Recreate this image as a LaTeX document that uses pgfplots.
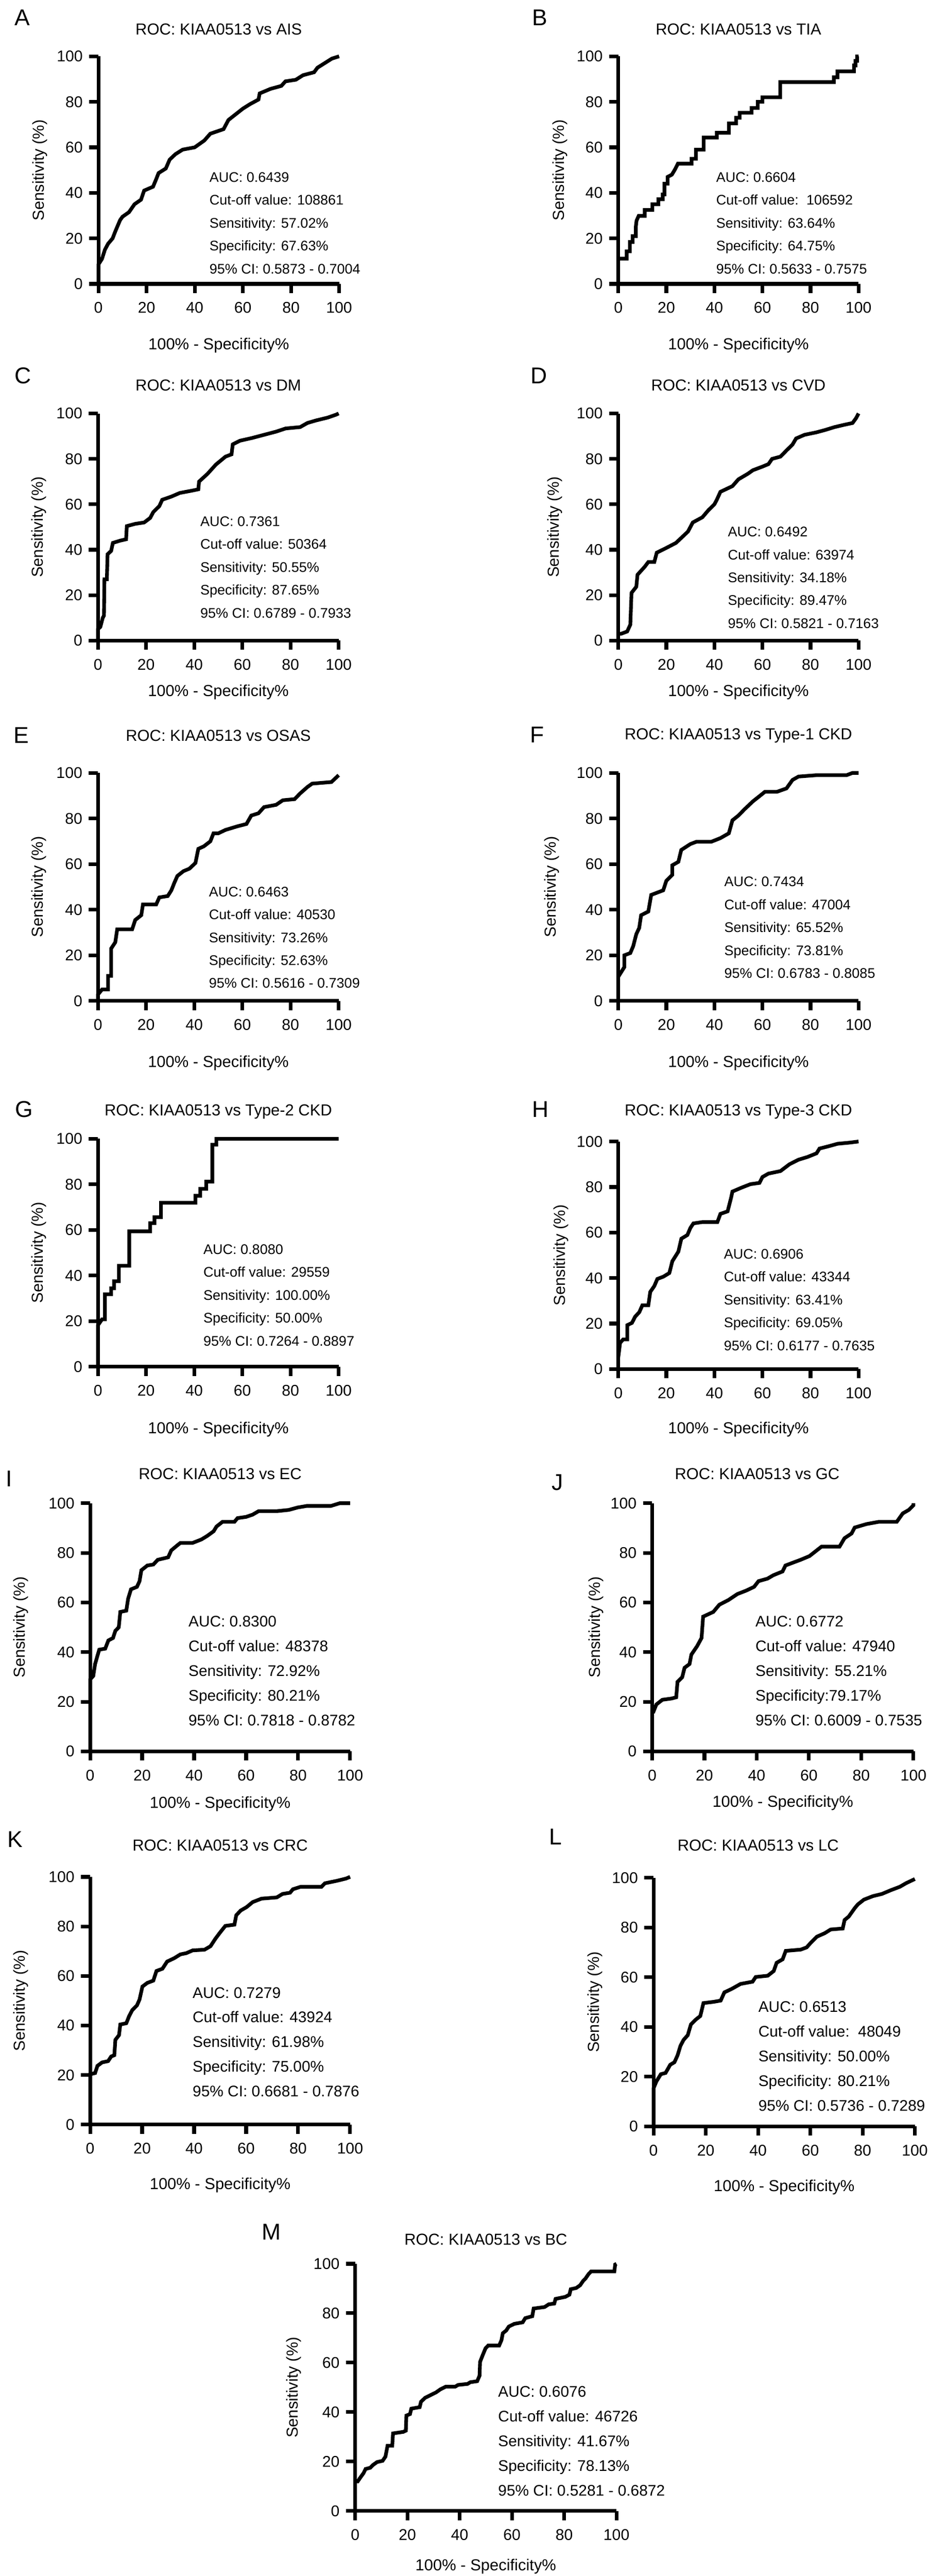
\documentclass[border=0pt]{standalone}
\usepackage{fontspec}
\setmainfont{Liberation Sans}
\usepackage{pgfplots}
\pgfplotsset{compat=1.18}
\pgfplotsset{
  roc/.style={
    scale only axis, clip=false,
    xmin=0,xmax=100,ymin=0,ymax=100,
    xtick={0,20,...,100}, ytick={0,20,...,100},
    axis x line*=bottom, axis y line*=left,
    axis line style={line width=2bp},
    tick align=outside, major tick length=5bp,
    major tick style={line width=2bp,black},
    tick label style={font=\fontsize{8.5bp}{10bp}\selectfont},
    xticklabel style={yshift=-1.5bp},
    /pgf/number format/assume math mode=true,
    xlabel={100\% - Specificity\%},
    ylabel={Sensitivity (\%)},
    label style={font=\fontsize{8.7bp}{10bp}\selectfont},
    every axis title/.style={at={(0.5,1)}, anchor=center, font=\fontsize{8.7bp}{10bp}\selectfont},
    anchor=south west,
  },
  tsh/.style={title style={yshift=#1}},
  xl/.style={xlabel style={at={(axis description cs:0.5,-#1)}, anchor=center}},
  yl/.style={ylabel style={at={(axis description cs:-#1,0.5)}, anchor=center}},
  curve/.style={black, line width=2bp, mark=none},
}
\tikzset{
  annoA/.style={font=\fontsize{7.6bp}{12.5bp}\selectfont, align=left, inner sep=0pt, anchor=north west},
  annoB/.style={font=\fontsize{8.4bp}{13.5bp}\selectfont, align=left, inner sep=0pt, anchor=north west},
  lett/.style={font=\fontsize{12.5bp}{14bp}\selectfont, inner sep=0pt},
}
\begin{document}
\begin{tikzpicture}
\path[use as bounding box] (0,0) rectangle (507.75bp,-1406.5bp);

% ---------------- A
\begin{axis}[roc, at={(53.75bp,-155bp)}, width=131.5bp, height=124.25bp,
  title={ROC: KIAA0513 vs AIS}, tsh=14.75bp, xl=0.27, yl=0.243]
\addplot[curve] coordinates {(0,0)(0,8.5)(1.5,11)(2.7,15)(4,17.6)(5.9,20)(7,23)(9,28)(10,29.5)(12.7,31.5)(15,35)(17.7,37)(19,41)(22.7,42.7)(24,46)(25,48.7)(28,50.7)(29.6,54.6)(32,57)(35,59)(40,60)(44,63)(46.5,66)(52,68)(54,72)(57,74.5)(60,77)(63,79)(66.5,81)(67,83.7)(71.5,85.7)(76,87)(77.7,89)(82,89.7)(85,91.7)(89.6,93)(91,95)(94,97)(97,99)(100,100)};
\node[annoA] at (axis cs:46,49.2) {AUC: 0.6439\\Cut-off value: 108861\\Sensitivity: 57.02\%\\Specificity: 67.63\%\\95\% CI: 0.5873 - 0.7004};
\end{axis}

% ---------------- B
\begin{axis}[roc, at={(337.75bp,-155bp)}, width=131.25bp, height=124.25bp,
  title={ROC: KIAA0513 vs TIA}, tsh=14.75bp, xl=0.27, yl=0.242]
\addplot[curve] coordinates {(0,0)(0,11.1)(3.5,11.1)(3.5,14.3)(4.8,14.3)(4.8,18.4)(6,18.4)(6,21)(7.3,21)(7.3,25.2)(7.6,27.8)(8.5,29.9)(11,29.9)(11,32.5)(14.2,32.5)(14.2,35)(16.7,35)(16.7,37.2)(18.5,37.2)(18.5,39.3)(19.2,39.3)(19.2,44)(20.5,44)(20.5,47)(22.3,48)(23.6,50.3)(24.8,52.8)(30.5,52.8)(30.5,55)(32.3,55)(32.3,59)(35.5,59)(35.5,64.3)(41,64.3)(41,66.4)(46,66.4)(46,70.5)(49,70.5)(49,73)(50.5,73)(50.5,75.2)(55.5,75.2)(55.5,77.3)(58,77.3)(58,80)(60,80)(60,82)(67.4,82)(67.4,88.7)(89.7,88.7)(89.7,90.8)(91.2,90.8)(91.2,93.4)(98.1,93.4)(98.1,96)(98.7,96)(98.7,98)(99.4,98)(99.4,100)(100,100)};
\node[annoA] at (axis cs:40.6,49.2) {AUC: 0.6604\\Cut-off value:\ \ 106592\\Sensitivity: 63.64\%\\Specificity: 64.75\%\\95\% CI: 0.5633 - 0.7575};
\end{axis}

% ---------------- C
\begin{axis}[roc, at={(53.5bp,-349.75bp)}, width=131.5bp, height=124bp,
  title={ROC: KIAA0513 vs DM}, tsh=15.5bp, xl=0.228, yl=0.245]
\addplot[curve] coordinates {(0,0)(0,5)(1,6)(2,10)(2.5,11)(2.7,27)(3.7,27)(4,38)(5.5,39.5)(6.2,43)(9.2,44)(11.7,44.6)(12,50.4)(15.5,51.4)(19.2,52)(21.7,54)(23,56.6)(25.5,59.2)(26.7,62)(30.5,63.4)(34,65)(39,66)(41.7,66.6)(42,70)(45.5,73.4)(49,77.5)(53,81)(55.5,82)(56,86.4)(59,88)(64,89.2)(69,90.6)(74,92)(78,93.4)(84,94)(87,95.8)(90.5,96.9)(95.5,98.2)(99,99.5)(100,100)};
\node[annoA] at (axis cs:42.4,54.8) {AUC: 0.7361\\Cut-off value: 50364\\Sensitivity: 50.55\%\\Specificity: 87.65\%\\95\% CI: 0.6789 - 0.7933};
\end{axis}

% ---------------- D
\begin{axis}[roc, at={(337.75bp,-349.75bp)}, width=131.25bp, height=124bp,
  title={ROC: KIAA0513 vs CVD}, tsh=15.5bp, xl=0.228, yl=0.263]
\addplot[curve] coordinates {(0,0)(0,3)(1.2,3)(3.7,4)(5,7)(5.5,21)(7.5,23.7)(8,29)(11,32.5)(12.5,34.6)(15,34.6)(16,38.7)(20,40.8)(24,43)(26,45)(29,48)(31,52)(35,54.3)(37.5,57.4)(40,60)(41,62)(42.5,65.5)(47.5,68)(50,71)(54,73.5)(56,75)(60,76.6)(62.5,77.7)(64,80)(67.5,81)(70,83.7)(72.5,86.3)(74,89)(77.5,90.6)(82.5,91.7)(86,92.7)(90,94)(94,95)(97.5,95.8)(99,98)(100,100)};
\node[annoA] at (axis cs:45.5,50.2) {AUC: 0.6492\\Cut-off value: 63974\\Sensitivity: 34.18\%\\Specificity: 89.47\%\\95\% CI: 0.5821 - 0.7163};
\end{axis}

% ---------------- E
\begin{axis}[roc, at={(53.5bp,-546.5bp)}, width=131.5bp, height=124.5bp,
  title={ROC: KIAA0513 vs OSAS}, tsh=20.25bp, xl=0.273, yl=0.245]
\addplot[curve] coordinates {(0,0)(0,2.8)(1.7,5)(4.2,5)(4.2,11)(5.5,11)(5.5,23)(7.2,25.7)(8,31.4)(14.2,31.4)(15.5,35.5)(18,37.6)(18.7,42.3)(24.2,42.3)(25.5,45.4)(29,46)(30.5,48.5)(31.7,51.7)(33,54.8)(35.5,56.9)(38,58)(40.5,60.5)(41.7,66.7)(44,67.8)(46.7,70)(48,73.5)(50,73.5)(53,75)(58,76.6)(61.7,77.6)(63.7,81.3)(66.7,82.3)(69,85)(74,86)(76.8,88)(81.7,88.5)(84,91)(87,93.8)(89,95.3)(97,96)(99,98)(100,99)};
\node[annoA] at (axis cs:46,50.2) {AUC: 0.6463\\Cut-off value: 40530\\Sensitivity: 73.26\%\\Specificity: 52.63\%\\95\% CI: 0.5616 - 0.7309};
\end{axis}

% ---------------- F
\begin{axis}[roc, at={(337.75bp,-546.5bp)}, width=131.25bp, height=124.5bp,
  title={ROC: KIAA0513 vs Type-1 CKD}, tsh=20.25bp, xl=0.273, yl=0.276]
\addplot[curve] coordinates {(0,0)(0,10.6)(2.5,14.8)(2.5,20)(5,21)(6.2,24)(7.5,29.3)(8.7,32)(9.5,37.6)(12.5,39.2)(13.7,46.5)(18.7,48.5)(20,52.7)(22.5,55.3)(22.5,59.5)(25,61)(26.2,66.2)(30,68.8)(32.5,69.8)(38.7,69.8)(42.5,71.4)(46,73.5)(47.5,79.2)(50,81.3)(52.5,84)(56,87.5)(59,90)(61,91.7)(66,91.7)(70,93.2)(72.5,96.9)(75,98.4)(82.5,99)(95,99)(97.5,100)(100,100)};
\node[annoA] at (axis cs:44,54.6) {AUC: 0.7434\\Cut-off value: 47004\\Sensitivity: 65.52\%\\Specificity: 73.81\%\\95\% CI: 0.6783 - 0.8085};
\end{axis}

% ---------------- G
\begin{axis}[roc, at={(53.5bp,-746.25bp)}, width=131.5bp, height=124.5bp,
  title={ROC: KIAA0513 vs Type-2 CKD}, tsh=14.75bp, xl=0.275, yl=0.245]
\addplot[curve] coordinates {(0,0)(0,18.2)(1.7,20.8)(2.9,20.8)(2.9,31.8)(5.5,31.8)(5.5,34.4)(6.7,34.4)(6.7,37.5)(8.7,37.5)(8.7,44.3)(13,44.3)(13,59.4)(21.7,59.4)(21.7,63)(23.5,63)(23.5,65.6)(26.2,65.6)(26.2,71.9)(40.5,71.9)(40.5,75)(42.5,75)(42.5,78)(45,78)(45,81.2)(47.5,81.2)(47.5,97.4)(49.2,97.4)(49.2,100)(100,100)};
\node[annoA] at (axis cs:43.7,53.8) {AUC: 0.8080\\Cut-off value: 29559\\Sensitivity: 100.00\%\\Specificity: 50.00\%\\95\% CI: 0.7264 - 0.8897};
\end{axis}

% ---------------- H
\begin{axis}[roc, at={(337.75bp,-747.5bp)}, width=131.25bp, height=124.25bp,
  title={ROC: KIAA0513 vs Type-3 CKD}, tsh=16.25bp, xl=0.266, yl=0.238]
\addplot[curve] coordinates {(0,0)(0,5.2)(0.75,11.5)(2,13)(3.75,13)(3.75,19.3)(5.7,20.3)(7,23)(8.75,25)(10,28)(12.5,28)(13.3,33.9)(15,36.5)(16.25,39.6)(18.75,40.6)(21.25,42.2)(22.5,47.4)(25,51.6)(26.25,57.3)(28.75,58.9)(30,62)(31.25,64)(35,64.6)(41.25,64.6)(42.5,68.2)(45.5,69.3)(47,75.5)(47.5,78)(51.25,79.7)(55,81.25)(58.75,81.8)(60,84.4)(62.5,85.9)(67.5,87)(71.25,90)(75,92)(78.75,93.2)(82.5,94.8)(83.75,96.9)(87.5,97.9)(91.25,99)(96.25,99.5)(100,100)};
\node[annoA] at (axis cs:43.8,52.9) {AUC: 0.6906\\Cut-off value: 43344\\Sensitivity: 63.41\%\\Specificity: 69.05\%\\95\% CI: 0.6177 - 0.7635};
\end{axis}

% ---------------- I
\begin{axis}[roc, at={(49.25bp,-956.25bp)}, width=142bp, height=135.5bp,
  title={ROC: KIAA0513 vs EC}, tsh=16bp, xl=0.212, yl=0.266]
\addplot[curve] coordinates {(0,0)(0,29)(1.2,30.4)(1.9,35.2)(2.8,38.5)(3.5,41)(5.8,41.4)(7,44.7)(8.8,45.7)(9.7,48.6)(11,50)(11.6,56.2)(13.9,56.7)(14.6,61.5)(15.7,65.3)(18,66.3)(19,68.6)(19.7,73)(22,74.9)(24.3,75.3)(26,77.2)(30,78.2)(31.2,81)(33.5,83)(34.7,84)(39.4,84)(42.8,85.4)(45,86.8)(47.5,88.7)(48.6,90.6)(50.9,92.5)(55.5,92.5)(56.7,94)(60,94.5)(62.5,95.4)(64.8,96.8)(71.8,96.8)(76.4,97.3)(79.9,98.3)(83.3,98.9)(92.6,98.9)(96,100)(100,100)};
\node[annoB] at (axis cs:37.7,54.6) {AUC: 0.8300\\Cut-off value: 48378\\Sensitivity: 72.92\%\\Specificity: 80.21\%\\95\% CI: 0.7818 - 0.8782};
\end{axis}

% ---------------- J
\begin{axis}[roc, at={(356.25bp,-956.25bp)}, width=142.75bp, height=135.5bp,
  title={ROC: KIAA0513 vs GC}, tsh=16bp, title style={xshift=-14bp}, xl=0.207, yl=0.214]
\addplot[curve] coordinates {(0,0)(0,16)(0.5,16)(1.6,18.9)(3.9,20.8)(7.4,21.3)(9.2,21.8)(9.7,28)(11.5,29.9)(12.4,33.7)(14.3,35.2)(15,39)(17.2,42.4)(18.9,45.7)(19.5,54.3)(23.4,56.2)(25.7,59.1)(29.2,61)(32.6,63.4)(36,64.8)(39,66.3)(40.7,68.6)(44.1,69.6)(46.4,71)(49.9,72.5)(51,74.9)(54.5,76.3)(56.8,77.2)(60.2,78.7)(62.5,80.6)(64.8,82.5)(71.7,82.5)(73.6,85.9)(76.3,87.8)(77.5,90.2)(82,91.6)(86.7,92.5)(93.6,92.5)(95.9,95.9)(98.2,97.3)(100,99.2)(100,100)};
\node[annoB] at (axis cs:39.4,54.6) {AUC: 0.6772\\Cut-off value: 47940\\Sensitivity: 55.21\%\\Specificity:79.17\%\\95\% CI: 0.6009 - 0.7535};
\end{axis}

% ---------------- K
\begin{axis}[roc, at={(49.25bp,-1160bp)}, width=142bp, height=135.25bp,
  title={ROC: KIAA0513 vs CRC}, tsh=17.25bp, xl=0.244, yl=0.266]
\addplot[curve] coordinates {(0,0)(0,20.3)(1.9,20.8)(2.8,23.7)(4.6,25.1)(6.9,25.6)(8.1,27.5)(9.3,28)(9.7,34.2)(11.1,36.1)(11.6,40.4)(13.9,40.9)(15,43.8)(16.2,46.2)(18,48.1)(19,50.5)(20.1,55.7)(22,57.2)(24.3,58.1)(25.5,62)(27.8,62.9)(29.6,65.8)(32.4,67.2)(34.7,68.7)(37,69.2)(39.4,70.3)(44,70.6)(46.3,72)(48.1,74.9)(49.8,77.3)(52,80.2)(55.5,80.7)(56.2,84.5)(57.9,86.4)(60.2,87.8)(62.5,89.8)(65.9,91.2)(71.8,91.7)(74,93.1)(76.9,93.6)(78,95)(81,96)(89,96)(90.3,97.4)(94.9,98.4)(98.4,99.3)(100,100)};
\node[annoB] at (axis cs:39.3,55.6) {AUC: 0.7279\\Cut-off value: 43924\\Sensitivity: 61.98\%\\Specificity: 75.00\%\\95\% CI: 0.6681 - 0.7876};
\end{axis}

% ---------------- L
\begin{axis}[roc, at={(357bp,-1161bp)}, width=142.75bp, height=135.75bp,
  title={ROC: KIAA0513 vs LC}, tsh=17.75bp, title style={xshift=-14.25bp}, xl=0.244, yl=0.224]
\addplot[curve] coordinates {(0,0)(0,15.3)(1.1,18.1)(2.8,21)(4.6,21.5)(6.4,24.8)(8,25.8)(9.2,28.6)(10.3,32.4)(11.5,34.8)(13.1,36.7)(14.3,41)(16.1,42.9)(17.9,44.4)(19.1,49.6)(23,50.1)(25.7,50.6)(27.1,53.9)(29.9,55.3)(33.3,57.3)(37.9,58.2)(39.1,60.1)(43.7,60.6)(46,62.5)(47.1,65.8)(49.4,67.2)(50.6,70.6)(56.3,71.1)(58.6,72)(60.2,73.9)(62.5,76.3)(65.5,77.7)(67.8,79.2)(72.4,79.6)(73.1,83)(74.7,84.4)(77,87.8)(78.2,89.3)(80.5,91.2)(83.9,92.6)(87.4,93.5)(90.8,95)(94.3,96.4)(96.6,97.8)(100,99.5)};
\node[annoB] at (axis cs:40,50.4) {AUC: 0.6513\\Cut-off value:\ \ 48049\\Sensitivity: 50.00\%\\Specificity: 80.21\%\\95\% CI: 0.5736 - 0.7289};
\end{axis}

% ---------------- M
\begin{axis}[roc, at={(194bp,-1371bp)}, width=142.75bp, height=135bp,
  title={ROC: KIAA0513 vs BC}, tsh=13.25bp, xl=0.224, yl=0.235]
\addplot[curve] coordinates {(0,0)(0,12)(1,12)(2.1,13.7)(3.2,15.3)(4,17)(5.8,17.5)(6.8,18.6)(8.4,19.8)(10.5,20.3)(11.6,22)(12.4,26.4)(14.2,26.4)(14.5,31.4)(18.4,32)(19.4,32.5)(19.6,38.6)(21,39.2)(21.5,41.4)(24.7,42)(25.2,44.2)(26.8,45.8)(28.9,46.9)(31,48)(32.6,49.2)(34.7,50.3)(38.3,50.3)(39.4,51)(43,51.4)(44.1,52.1)(46.7,52.5)(47.6,54.7)(47.8,60.3)(48.8,63)(49.9,65.8)(50.9,66.9)(55.1,66.9)(56,69.1)(56.5,71.9)(57.8,73)(58.8,74.6)(60.9,75.7)(64.1,76.3)(65.1,78)(67.8,78.8)(68.3,81.9)(72.5,82.5)(74.1,83.6)(76.2,83.9)(76.7,85.8)(80.4,86.6)(82,87.5)(82.5,89.7)(84.6,90.2)(86.1,91.3)(87.2,93)(88.2,94.1)(89.3,95.8)(90.3,96.9)(99.2,96.9)(99.5,99.7)(100,100)};
\node[annoB] at (axis cs:54.6,50.6) {AUC: 0.6076\\Cut-off value: 46726\\Sensitivity: 41.67\%\\Specificity: 78.13\%\\95\% CI: 0.5281 - 0.6872};
\end{axis}

% ---------------- panel letters
\node[lett] at (12.25bp,-9.5bp) {A};
\node[lett] at (294.75bp,-9.75bp) {B};
\node[lett] at (12.5bp,-205bp) {C};
\node[lett] at (294.5bp,-205bp) {D};
\node[lett] at (11.5bp,-401.5bp) {E};
\node[lett] at (293.5bp,-401.25bp) {F};
\node[lett] at (13.25bp,-605.75bp) {G};
\node[lett] at (295.25bp,-605.75bp) {H};
\node[lett] at (5bp,-807.5bp) {I};
\node[lett] at (304.5bp,-809.5bp) {J};
\node[lett] at (8.25bp,-1004.25bp) {K};
\node[lett] at (303.5bp,-1003bp) {L};
\node[lett] at (148.25bp,-1218.5bp) {M};
\end{tikzpicture}
\end{document}
